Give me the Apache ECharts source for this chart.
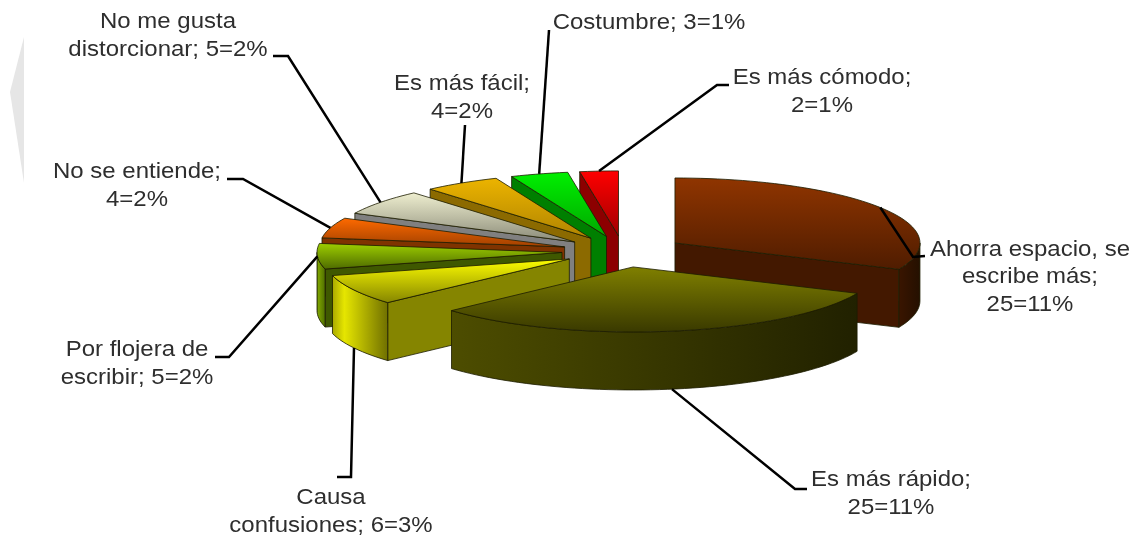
<!DOCTYPE html>
<html>
<head>
<meta charset="utf-8">
<style>html,body{margin:0;padding:0;background:#fff}#c{width:1137px;height:540px}</style>
<script src="https://cdn.jsdelivr.net/npm/echarts@6/dist/echarts.min.js"></script>
</head>
<body>
<div id="c"></div>
<script>
// ---- data, clockwise from the top of the pie
const categories = ['Ahorra espacio, se escribe más','Es más rápido','Causa confusiones','Por flojera de escribir','No se entiende','No me gusta distorcionar','Es más fácil','Costumbre','Es más cómodo'];
const values = [25, 25, 6, 5, 4, 5, 4, 3, 2];
const percents = [11, 11, 3, 2, 2, 2, 2, 1, 1];

// ---- label wrapping as in the picture
const labelTexts = ['Ahorra espacio, se\nescribe más;\n25=11%','Es más rápido;\n25=11%','Causa\nconfusiones; 6=3%','Por flojera de\nescribir; 5=2%','No se entiende;\n4=2%','No me gusta\ndistorcionar; 5=2%','Es más fácil;\n4=2%','Costumbre; 3=1%','Es más cómodo;\n2=1%'];

// ---- layout
const pie = {cx: 623.4, cy: 251.5, rx: 245, ry: 65, explodeX: 61.5, explodeY: 15.65, depth: 58};
const labelCenters = [[1030,277],[891,494],[331,512],[137,364],[137,186],[168,36],[462,98],[649,23],[822,92]];
const leaderElbows = [[[913,257],[925,256]],[[795,489],[807,489]],[[351,477],[337,477]],[[229,357],[215,357]],[[243,179],[227,179]],[[288,56],[273,56]],[[465,125]],[[549,30]],[[717,85],[729,85]]];
const drawOrder = [0, 8, 7, 6, 5, 4, 3, 2, 1]; // back to front

// ---- colours
const topColors = [['#903500','#4f1c00'],['#808000','#393900'],['#ffff00','#858500'],['#9fd000','#4d6a00'],['#ff6a00','#a04000'],['#efefd0','#8a8a78'],['#ecb400','#b08400'],['#00f000','#00a800'],['#ff0000','#a00000']];
const edgeColors = ['#431800','#333300','#858500','#3f5800','#7f3300','#808080','#8c6a00','#007f00','#8c0000'];
const outerColors = [['#3a1500','#241000'],['#4d4d00','#212100'],['#a8a800','#e6e600','#6f6f00'],['#4d6a00','#7aa000','#4d6a00'],['#994000','#7f3300'],['#808080','#666666'],['#8c6a00','#6f5400'],['#007f00','#006600'],['#8c0000','#660000']];

const total = values.reduce((a, b) => a + b, 0);
const RAD = Math.PI / 180;
function sliceAngles(i) {
  let start = 0;
  for (let k = 0; k < i; k++) start += values[k] / total * 360;
  return [start, start + values[i] / total * 360];
}
function apexOf(i) {
  const [a0, a1] = sliceAngles(i), m = (a0 + a1) / 2 * RAD;
  return [pie.cx + pie.explodeX * Math.sin(m), pie.cy - pie.explodeY * Math.cos(m)];
}
function rimPoint(apex, deg, dy) {
  return [apex[0] + pie.rx * Math.sin(deg * RAD), apex[1] - pie.ry * Math.cos(deg * RAD) + (dy || 0)];
}
function arc(apex, a0, a1, dy) {
  const n = Math.max(2, Math.ceil((a1 - a0) / 2)), pts = [];
  for (let k = 0; k <= n; k++) pts.push(rimPoint(apex, a0 + (a1 - a0) * k / n, dy));
  return pts;
}
function grad(vertical, stops) {
  const offsets = stops.length === 3 ? [0, 0.22, 1] : [0, 1];
  return new echarts.graphic.LinearGradient(0, 0, vertical ? 0 : 1, vertical ? 1 : 0,
    stops.map((color, k) => ({offset: offsets[k], color})));
}
const lineStyle = {stroke: '#1c1c00', lineWidth: 0.8};

function renderSlice(params, api) {
  const i = api.value(0), apex = apexOf(i), [a0, a1] = sliceAngles(i);
  const mid = rimPoint(apex, (a0 + a1) / 2);
  const children = [];
  // cut faces turned towards the viewer
  [a0, a1].forEach(a => {
    const p = rimPoint(apex, a);
    const ex = p[0] - apex[0], ey = p[1] - apex[1];
    const inner = ex * (mid[1] - apex[1]) - ey * (mid[0] - apex[0]);
    if (Math.abs(ex) > 1 && inner * ex < 0) {
      children.push({type: 'polygon',
        shape: {points: [apex, p, [p[0], p[1] + pie.depth], [apex[0], apex[1] + pie.depth]]},
        style: Object.assign({fill: edgeColors[i]}, lineStyle)});
    }
  });
  // outer rim, front half only
  const w0 = Math.max(a0, 90), w1 = Math.min(a1, 270);
  if (w1 > w0) {
    const pts = arc(apex, w0, w1, 0).concat(arc(apex, w0, w1, pie.depth).reverse());
    children.push({type: 'polygon', shape: {points: pts},
      style: Object.assign({fill: grad(false, outerColors[i])}, lineStyle)});
  }
  // top face
  children.push({type: 'polygon', shape: {points: [apex].concat(arc(apex, a0, a1, 0))},
    style: Object.assign({fill: grad(true, topColors[i])}, lineStyle)});
  return {type: 'group', children};
}

function renderLabel(params, api) {
  const i = api.value(0), apex = apexOf(i), [a0, a1] = sliceAngles(i);
  const m = (a0 + a1) / 2;
  const start = rimPoint(apex, m, Math.abs(m - 180) < 70 ? pie.depth : 0);
  return {type: 'group', children: [
    {type: 'polyline', shape: {points: [start].concat(leaderElbows[i])},
     style: {stroke: '#000', lineWidth: 2.5, fill: 'none'}},
    {type: 'text', x: labelCenters[i][0], y: labelCenters[i][1], scaleX: 1.09,
     style: {text: labelTexts[i], fill: '#2e2e2e', font: '22px "Liberation Sans", Arial, sans-serif',
             align: 'center', verticalAlign: 'middle', lineHeight: 27.5}}
  ]};
}

const rows = drawOrder.map(i => ({name: categories[i], value: [i, values[i], percents[i]]}));
const chart = echarts.init(document.getElementById('c'), null, {renderer: 'canvas'});
chart.setOption({
  animation: false,
  backgroundColor: '#fff',
  graphic: [{type: 'polygon', silent: true, z: -1,
    shape: {points: [[24, 37], [10, 92], [24, 183]]}, style: {fill: '#e6e6e6'}}],
  series: [
    {type: 'custom', coordinateSystem: 'none', z: 2, data: rows, renderItem: renderSlice, silent: true},
    {type: 'custom', coordinateSystem: 'none', z: 3, data: rows, renderItem: renderLabel, silent: true}
  ]
});
</script>
</body>
</html>
